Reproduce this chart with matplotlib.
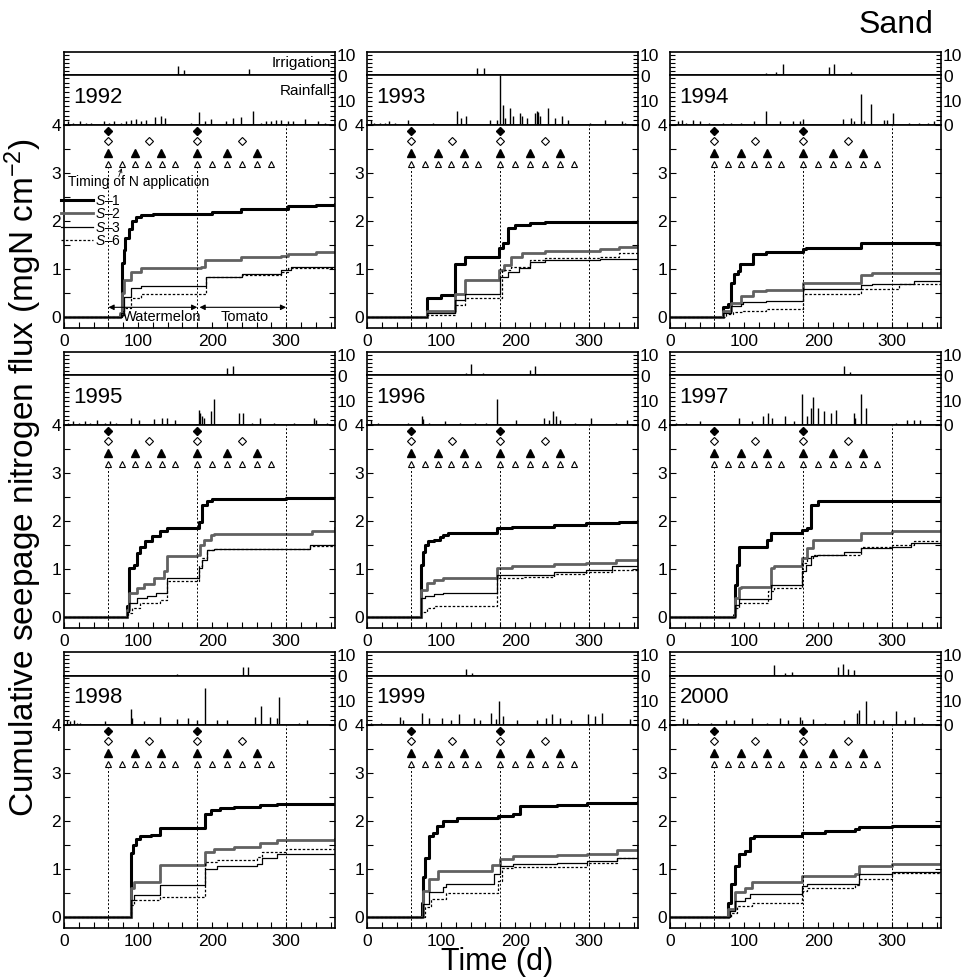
import matplotlib
matplotlib.use("Agg")
import matplotlib.pyplot as plt
from matplotlib.ticker import MultipleLocator, FixedLocator

plt.rcParams['font.family'] = ['Liberation Sans', 'DejaVu Sans']
plt.rcParams['mathtext.fontset'] = 'custom'
plt.rcParams['mathtext.rm'] = 'Liberation Sans'
plt.rcParams['mathtext.it'] = 'Liberation Sans:italic'

years = [1992, 1993, 1994, 1995, 1996, 1997, 1998, 1999, 2000]

# days of N application for each fertilisation scheme
n_days_s1 = [60, 180]
n_days_s2 = [60, 115, 180, 240]
n_days_s3 = [60, 96, 131, 180, 220, 260]
n_days_s6 = [60, 78, 96, 114, 132, 150, 180, 200, 220, 240, 260, 280]

# cumulative seepage N flux (mgN cm-2), (day, value) at each step
s1 = {
    1992: [(0, 0), (76, 0.05), (78, 0.6), (79, 1.13), (81, 1.4), (83, 1.65), (88, 1.83), (92, 2.0),
           (97, 2.08), (104, 2.12), (120, 2.14), (180, 2.16), (200, 2.19), (239, 2.26), (302, 2.31),
           (340, 2.34), (366, 2.35)],
    1993: [(0, 0), (81, 0.40), (100, 0.46), (119, 1.11), (132, 1.26), (178, 1.44), (184, 1.54),
           (190, 1.85), (200, 1.92), (220, 1.97), (240, 1.99), (366, 2.0)],
    1994: [(0, 0), (72, 0.21), (78, 0.28), (83, 0.72), (87, 0.90), (92, 0.97), (95, 1.12), (112, 1.31),
           (130, 1.36), (179, 1.43), (184, 1.45), (258, 1.54), (273, 1.55), (366, 1.55)],
    1995: [(0, 0), (85, 0.23), (88, 1.02), (94, 1.09), (99, 1.34), (103, 1.47), (110, 1.58), (119, 1.70),
           (130, 1.79), (139, 1.85), (182, 1.99), (186, 2.34), (193, 2.41), (200, 2.46), (300, 2.48),
           (366, 2.49)],
    1996: [(0, 0), (73, 1.09), (76, 1.35), (78, 1.51), (83, 1.58), (91, 1.61), (98, 1.68), (103, 1.72),
           (110, 1.75), (176, 1.85), (196, 1.87), (253, 1.92), (296, 1.96), (340, 1.98), (366, 2.0)],
    1997: [(0, 0), (86, 0.05), (88, 0.68), (91, 1.1), (93, 1.47), (131, 1.61), (136, 1.75), (178, 1.82),
           (185, 1.86), (190, 2.34), (200, 2.41), (250, 2.42), (366, 2.44)],
    1998: [(0, 0), (90, 1.33), (93, 1.50), (97, 1.64), (103, 1.70), (117, 1.71), (130, 1.85), (191, 2.16),
           (198, 2.23), (211, 2.28), (229, 2.30), (265, 2.33), (287, 2.36), (366, 2.36)],
    1999: [(0, 0), (74, 0.3), (76, 0.83), (79, 1.24), (84, 1.69), (89, 1.76), (94, 1.90), (102, 2.0),
           (122, 2.06), (177, 2.10), (197, 2.14), (207, 2.31), (257, 2.34), (297, 2.37), (366, 2.40)],
    2000: [(0, 0), (78, 0.31), (83, 0.69), (88, 1.07), (93, 1.31), (101, 1.38), (108, 1.66), (113, 1.70),
           (178, 1.76), (210, 1.79), (250, 1.83), (255, 1.88), (300, 1.90), (366, 1.90)],
}
s2 = {
    1992: [(0, 0), (76, 0.1), (79, 0.5), (81, 0.78), (90, 0.95), (104, 1.02), (185, 1.05), (191, 1.2),
           (239, 1.25), (293, 1.28), (302, 1.32), (340, 1.35), (366, 1.37)],
    1993: [(0, 0), (81, 0.14), (119, 0.49), (132, 0.78), (178, 0.98), (185, 1.09), (195, 1.26), (210, 1.33),
           (240, 1.39), (315, 1.42), (340, 1.46), (366, 1.48)],
    1994: [(0, 0), (72, 0.14), (83, 0.31), (96, 0.45), (112, 0.55), (130, 0.57), (180, 0.71), (258, 0.88),
           (273, 0.93), (366, 0.95)],
    1995: [(0, 0), (85, 0.16), (88, 0.50), (99, 0.61), (108, 0.69), (121, 0.82), (135, 0.96), (139, 1.27),
           (180, 1.30), (184, 1.51), (189, 1.61), (198, 1.72), (202, 1.74), (335, 1.80), (366, 1.85)],
    1996: [(0, 0), (73, 0.57), (81, 0.71), (91, 0.78), (103, 0.82), (175, 1.02), (196, 1.06), (253, 1.11),
           (296, 1.13), (336, 1.20), (366, 1.22)],
    1997: [(0, 0), (88, 0.40), (93, 0.61), (96, 0.63), (136, 1.02), (140, 1.07), (178, 1.23), (185, 1.44),
           (193, 1.61), (258, 1.75), (300, 1.79), (366, 1.82)],
    1998: [(0, 0), (90, 0.61), (94, 0.74), (130, 1.09), (191, 1.37), (202, 1.43), (229, 1.47), (265, 1.54),
           (287, 1.61), (366, 1.63)],
    1999: [(0, 0), (76, 0.55), (84, 0.79), (96, 0.97), (169, 1.10), (179, 1.21), (197, 1.28), (257, 1.30),
           (297, 1.32), (338, 1.41), (366, 1.46)],
    2000: [(0, 0), (78, 0.17), (88, 0.52), (101, 0.62), (111, 0.74), (178, 0.86), (250, 0.91), (255, 1.07),
           (300, 1.12), (366, 1.17)],
}
s3 = {
    1992: [(0, 0), (77, 0.1), (81, 0.43), (90, 0.61), (104, 0.66), (192, 0.85), (241, 0.91), (293, 0.99),
           (306, 1.05), (366, 1.09)],
    1993: [(0, 0), (81, 0.10), (119, 0.36), (132, 0.49), (180, 0.85), (190, 0.95), (205, 1.02), (220, 1.16),
           (240, 1.19), (315, 1.22), (366, 1.28)],
    1994: [(0, 0), (72, 0.10), (83, 0.24), (96, 0.28), (99, 0.33), (130, 0.34), (180, 0.60), (258, 0.68),
           (273, 0.70), (330, 0.75), (366, 0.78)],
    1995: [(0, 0), (85, 0.12), (88, 0.30), (99, 0.40), (112, 0.44), (124, 0.51), (139, 0.82), (182, 1.02),
           (186, 1.20), (193, 1.40), (202, 1.43), (332, 1.51), (366, 1.56)],
    1996: [(0, 0), (73, 0.40), (78, 0.44), (91, 0.48), (103, 0.51), (175, 0.89), (253, 0.95), (296, 0.99),
           (331, 1.06), (366, 1.08)],
    1997: [(0, 0), (88, 0.26), (93, 0.38), (136, 0.68), (178, 0.96), (183, 1.09), (190, 1.27), (198, 1.30),
           (235, 1.35), (258, 1.44), (300, 1.47), (325, 1.54), (366, 1.56)],
    1998: [(0, 0), (90, 0.37), (94, 0.47), (130, 0.68), (191, 1.01), (207, 1.06), (260, 1.12), (267, 1.23),
           (287, 1.31), (366, 1.32)],
    1999: [(0, 0), (76, 0.28), (84, 0.52), (102, 0.63), (107, 0.69), (172, 0.90), (179, 1.07), (197, 1.12),
           (257, 1.14), (297, 1.17), (338, 1.24), (366, 1.30)],
    2000: [(0, 0), (81, 0.14), (88, 0.34), (101, 0.41), (108, 0.48), (178, 0.66), (185, 0.70), (255, 0.90),
           (300, 0.94), (366, 1.0)],
}
s6 = {
    1992: [(0, 0), (79, 0.05), (81, 0.19), (90, 0.40), (104, 0.49), (192, 0.83), (241, 0.88), (293, 0.95),
           (302, 1.02), (366, 1.09)],
    1993: [(0, 0), (81, 0.05), (119, 0.26), (132, 0.40), (182, 0.98), (195, 1.05), (220, 1.19), (240, 1.23),
           (315, 1.25), (340, 1.33), (366, 1.37)],
    1994: [(0, 0), (76, 0.07), (85, 0.12), (99, 0.14), (130, 0.17), (180, 0.48), (258, 0.59), (309, 0.69),
           (366, 0.76)],
    1995: [(0, 0), (87, 0.09), (92, 0.19), (103, 0.30), (130, 0.37), (139, 0.76), (182, 1.06), (186, 1.23),
           (193, 1.40), (202, 1.42), (332, 1.49), (366, 1.54)],
    1996: [(0, 0), (73, 0.12), (81, 0.19), (91, 0.23), (100, 0.24), (176, 0.82), (211, 0.85), (253, 0.90),
           (296, 0.94), (331, 0.99), (366, 1.02)],
    1997: [(0, 0), (88, 0.19), (93, 0.30), (133, 0.54), (140, 0.61), (178, 1.13), (185, 1.23), (193, 1.30),
           (258, 1.47), (300, 1.51), (330, 1.58), (366, 1.61)],
    1998: [(0, 0), (90, 0.26), (94, 0.37), (130, 0.43), (191, 1.16), (207, 1.19), (260, 1.26), (267, 1.37),
           (300, 1.43), (366, 1.49)],
    1999: [(0, 0), (79, 0.21), (86, 0.38), (107, 0.50), (177, 0.76), (182, 1.03), (197, 1.04), (297, 1.14),
           (338, 1.24), (366, 1.28)],
    2000: [(0, 0), (83, 0.10), (91, 0.24), (111, 0.29), (113, 0.31), (178, 0.55), (185, 0.62), (250, 0.68),
           (255, 0.79), (300, 0.93), (366, 0.97)],
}

# daily irrigation (mm), (day, amount)
irrigation = {
    1992: [(154, 4.4), (162, 2.5), (169, 0.8), (250, 3.0)],
    1993: [(148, 3.8), (158, 3.8)],
    1994: [(130, 1.2), (143, 1.7), (152, 5.5), (161, 0.7), (215, 3.9), (222, 5.5), (228, 0.5), (235, 0.5),
           (244, 1.5)],
    1995: [(220, 3.5), (228, 4.5), (292, 0.8)],
    1996: [(134, 1.0), (141, 5.5), (156, 1.0), (220, 2.5), (227, 4.6), (239, 0.5)],
    1997: [(235, 4.5), (243, 1.5)],
    1998: [(153, 0.5), (242, 4.0), (249, 4.3)],
    1999: [(134, 3.0), (142, 1.0)],
    2000: [(140, 5.0), (155, 1.0), (165, 1.5), (227, 4.0), (234, 5.5), (240, 3.0), (248, 2.5)],
}

# daily rainfall (mm), (day, amount)
rainfall = {
    1992: [(5, 1.5), (12, 1), (21, 1.5), (30, 1), (36, 1), (54, 1.5), (61, 1), (68, 1.5), (77, 1), (84, 1.5),
           (91, 2), (97, 2.5), (104, 1.5), (111, 2), (123, 3.5), (131, 4), (137, 3), (172, 1), (182, 5.7),
           (190, 1.5), (199, 2.5), (219, 1.5), (228, 3), (239, 3.5), (255, 6), (266, 1), (273, 1.5),
           (280, 1.5), (286, 2), (293, 2), (302, 1.5), (309, 1.5), (325, 2.5), (343, 1.5), (352, 1)],
    1993: [(5, 2), (10, 1), (18, 1), (24, 1), (30, 1.5), (38, 1), (55, 2), (89, 1), (121, 6), (127, 3),
           (134, 4), (166, 2), (175, 2), (179, 21), (183, 8.5), (186, 3), (193, 7), (197, 4), (206, 5),
           (209, 4), (216, 3), (227, 5), (229, 6), (231, 5.5), (234, 4), (245, 7), (254, 3), (263, 4),
           (272, 2), (301, 1), (322, 2), (344, 1.5), (349, 1)],
    1994: [(11, 1.5), (16, 2), (22, 1), (31, 2), (40, 1.5), (52, 1), (72, 1), (83, 1), (96, 1), (114, 1.5),
           (130, 6), (148, 1.5), (166, 1.5), (175, 1.5), (179, 2.5), (233, 2.5), (244, 3), (249, 1.5),
           (258, 13), (262, 1.5), (272, 9), (289, 2), (293, 2), (301, 5), (323, 1), (336, 1), (349, 1),
           (356, 1.5)],
    1995: [(5, 1), (12, 1.5), (20, 1), (28, 1.5), (35, 1), (45, 2), (55, 1), (62, 1.5), (70, 1), (90, 3),
           (101, 2), (121, 2.5), (132, 3), (139, 3), (150, 2), (182, 6.5), (184, 5), (186, 4), (189, 3),
           (198, 6), (202, 11), (236, 5), (242, 5), (254, 1), (265, 3), (283, 1), (310, 1), (337, 3),
           (341, 2), (355, 1)],
    1996: [(6, 2), (15, 1), (26, 0.5), (40, 0.5), (55, 1), (74, 4), (76, 2.5), (84, 1), (106, 1.5),
           (125, 1), (146, 1), (161, 1), (175, 11), (201, 2), (239, 3), (246, 2), (251, 6), (255, 4),
           (261, 2), (281, 1), (303, 3), (336, 1), (351, 2)],
    1997: [(8, 1), (21, 1), (41, 1.5), (60, 0.5), (93, 3), (111, 1.5), (126, 4), (133, 5), (138, 3),
           (155, 4), (168, 1.5), (178, 13), (185, 4), (190, 7), (193, 12), (200, 7), (208, 6), (218, 5),
           (224, 6.5), (248, 5), (250, 3), (258, 13), (265, 7), (305, 1), (320, 2), (330, 2), (337, 2)],
    1998: [(4, 2), (8, 1.5), (13, 2), (18, 1), (22, 1), (40, 0.5), (56, 1.5), (91, 7), (92, 3), (108, 1.5),
           (130, 3.5), (153, 2.5), (168, 3), (180, 2), (191, 15.5), (207, 2), (220, 2), (258, 3.5),
           (266, 8), (278, 3.5), (287, 3), (290, 12), (317, 1), (328, 2)],
    1999: [(6, 1), (19, 1), (44, 3.5), (49, 2), (74, 5), (84, 3), (101, 3), (114, 2), (124, 4.5),
           (144, 3), (152, 2), (167, 5), (174, 2.5), (178, 10), (183, 4), (202, 2), (230, 2), (242, 3),
           (250, 4.5), (260, 3), (275, 2), (298, 4.5), (308, 4), (318, 5), (355, 2.5)],
    2000: [(18, 3), (23, 2.5), (38, 1), (56, 1), (76, 2), (86, 2), (111, 3), (131, 1), (148, 3), (160, 2),
           (175, 3.5), (178, 2), (193, 2.5), (210, 1), (235, 2), (253, 5), (255, 6.5), (265, 10),
           (275, 2), (288, 2), (305, 6), (317, 2), (330, 3.5), (340, 1)],
}

series = [
    (s1, r'$S$–1', dict(color='black', lw=2.2)),
    (s2, r'$S$–2', dict(color='0.38', lw=2.0)),
    (s3, r'$S$–3', dict(color='black', lw=0.9)),
    (s6, r'$S$–6', dict(color='black', lw=0.9, ls=(0, (2, 1.5)))),
]
markers = [
    (n_days_s1, 3.88, dict(marker='D', mfc='black', mec='black', ms=3.6)),
    (n_days_s2, 3.66, dict(marker='D', mfc='white', mec='black', ms=3.6, mew=0.8)),
    (n_days_s3, 3.42, dict(marker='^', mfc='black', mec='black', ms=5.5)),
    (n_days_s6, 3.19, dict(marker='^', mfc='white', mec='black', ms=5.0, mew=0.8)),
]

W, H = 967, 980
fig = plt.figure(figsize=(W / 100, H / 100), dpi=100)

col_left = [64, 367, 670]
row_top = [52, 352, 652]
aw = 271
h_irr, h_rain, h_main = 23.5, 49.5, 203


def add_px_axes(left, top, width, height):
    return fig.add_axes([left / W, 1 - (top + height) / H, width / W, height / H])


def style_bar_axes(ax, top):
    ax.set_xlim(0, 366)
    ax.set_ylim(0, top)
    ax.yaxis.set_major_locator(FixedLocator([0, 10]))
    ax.yaxis.set_minor_locator(MultipleLocator(2))
    ax.tick_params(axis='y', which='both', direction='in', left=True, right=True,
                   labelleft=False, labelright=True, length=3.5, width=0.8, labelsize=12.5, pad=1.5)
    ax.tick_params(axis='x', which='both', bottom=False, labelbottom=False)
    for sp in ax.spines.values():
        sp.set_linewidth(1.2)


for i, year in enumerate(years):
    r, c = divmod(i, 3)
    left, top = col_left[c], row_top[r]

    ax_i = add_px_axes(left, top, aw, h_irr)
    d, v = zip(*irrigation[year])
    ax_i.vlines(d, 0, v, colors='black', lw=1.0)
    style_bar_axes(ax_i, 11.3)

    ax_r = add_px_axes(left, top + h_irr, aw, h_rain)
    d, v = zip(*rainfall[year])
    ax_r.vlines(d, 0, v, colors='black', lw=1.0)
    style_bar_axes(ax_r, 21)
    ax_r.text(0.035, 0.56, str(year), transform=ax_r.transAxes, fontsize=16, va='center', ha='left')

    ax = add_px_axes(left, top + h_irr + h_rain, aw, h_main)
    for data, label, kw in series:
        d, v = zip(*data[year])
        ax.plot(d, v, drawstyle='steps-post', label=label, **kw)
    for days, y, kw in markers:
        ax.plot(days, [y] * len(days), ls='none', **kw)
    ax.vlines([60, 180], -0.22, 3.1, colors='black', lw=0.7, linestyles=(0, (2, 2)))
    ax.vlines(300, -0.22, 4.0, colors='black', lw=0.7, linestyles=(0, (2, 2)))

    ax.set_xlim(0, 366)
    ax.set_ylim(-0.22, 4.0)
    ax.xaxis.set_major_locator(MultipleLocator(100))
    ax.xaxis.set_minor_locator(MultipleLocator(20))
    ax.yaxis.set_major_locator(MultipleLocator(1))
    ax.yaxis.set_minor_locator(MultipleLocator(0.5))
    ax.tick_params(which='both', direction='in', left=True, right=True, bottom=True, top=False,
                   length=4, width=0.8, labelsize=12.5)
    ax.tick_params(axis='x', pad=4)
    ax.tick_params(axis='y', pad=2)
    for sp in ax.spines.values():
        sp.set_linewidth(1.2)

    if year == 1992:
        ax_i.text(0.985, 0.55, 'Irrigation', transform=ax_i.transAxes, fontsize=11,
                  ha='right', va='center')
        ax_r.text(0.985, 0.68, 'Rainfall', transform=ax_r.transAxes, fontsize=11,
                  ha='right', va='center')
        ax.text(5, 2.82, 'Timing of N application', fontsize=10, va='center', ha='left')
        ax.annotate('', xy=(78, 3.1), xytext=(74, 2.93),
                    arrowprops=dict(arrowstyle='->', lw=0.6, color='black',
                                    shrinkA=0, shrinkB=0, mutation_scale=6))
        ax.legend(loc='upper left', bbox_to_anchor=(-0.01, 0.66), frameon=False, fontsize=10,
                  handlelength=2.3, handletextpad=0.15, labelspacing=-0.05, borderpad=0,
                  borderaxespad=0)
        arrow = dict(arrowstyle='<|-|>', lw=0.8, color='black', shrinkA=0, shrinkB=0,
                     mutation_scale=8)
        ax.annotate('', xy=(60, 0.21), xytext=(180, 0.21), arrowprops=arrow)
        ax.annotate('', xy=(183, 0.21), xytext=(300, 0.21), arrowprops=arrow)
        ax.text(132, 0.0, 'Watermelon', fontsize=10.5, ha='center', va='center')
        ax.text(244, 0.0, 'Tomato', fontsize=10.5, ha='center', va='center')

fig.text(0.965, 0.974, 'Sand', fontsize=23, ha='right', va='center')
fig.text(0.024, 0.513, 'Cumulative seepage nitrogen flux (mgN cm$^{-2}$)', fontsize=24,
         rotation=90, ha='center', va='center')
fig.text(0.514, 0.018, 'Time (d)', fontsize=22, ha='center', va='center')

fig.savefig('out.png', dpi=100)
